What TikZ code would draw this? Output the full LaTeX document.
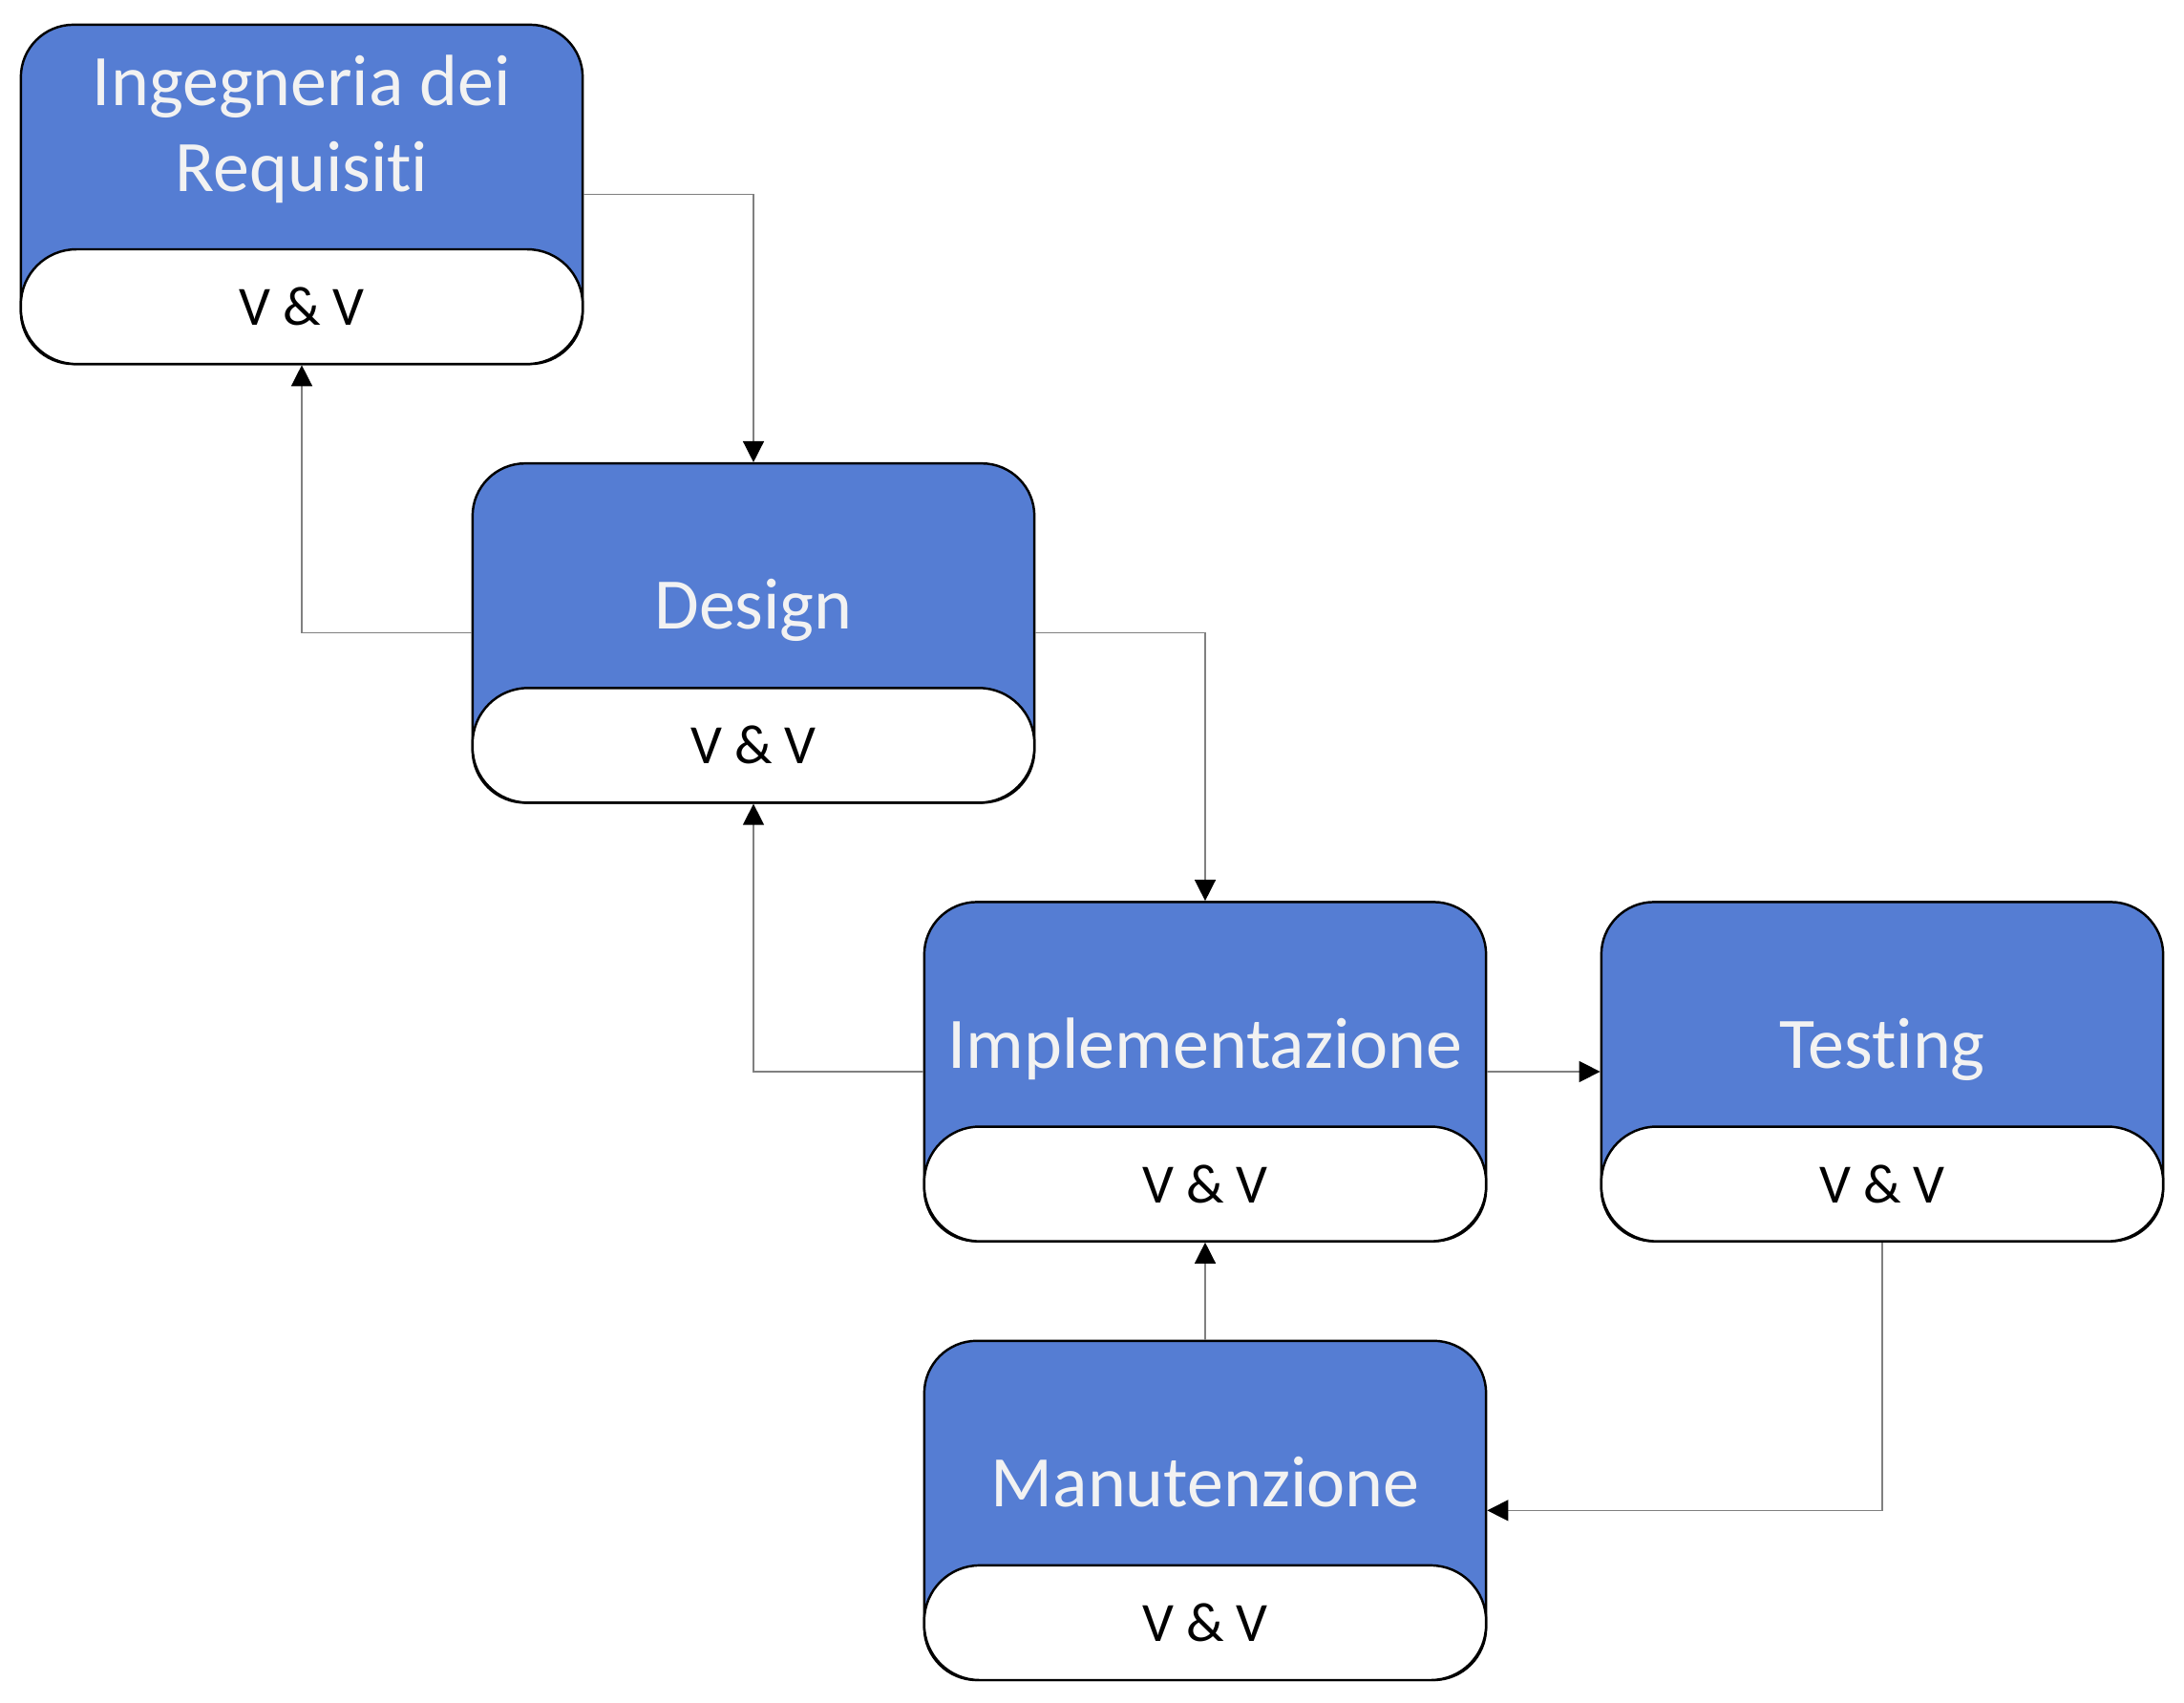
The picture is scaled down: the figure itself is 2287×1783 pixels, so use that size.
\documentclass[tikz,border=0pt]{standalone}
\usepackage{fontspec}
\setmainfont{Carlito}[Ligatures=NoCommon]
\usepackage{tikz}
\usetikzlibrary{positioning, arrows, arrows.meta, calc}

\definecolor{phaseblue}{RGB}{85,125,211}
\definecolor{phasetext}{RGB}{242,242,242}
\definecolor{linkgray}{RGB}{128,128,128}

\begin{document}
\begin{tikzpicture}[x=0.01cm, y=-0.01cm,
  >={Triangle[length=2.2mm,width=2.2mm,color=black]},
  phase/.style={draw=black, line width=0.7pt, fill=phaseblue, rounded corners=0.55cm,
    minimum width=5.88cm, minimum height=3.55cm, inner sep=0pt},
  vvband/.style={draw=black, line width=0.7pt, fill=white, rounded corners=0.58cm,
    minimum width=5.88cm, minimum height=1.2cm, inner sep=0pt, anchor=south,
    font=\fontsize{16.5}{20}\selectfont},
  phasetitle/.style={text=phasetext, font=\fontsize{21.6}{25.5}\selectfont, align=center, anchor=base},
  link/.style={->, draw=linkgray, line width=0.4pt}]

\useasboundingbox (0,0) rectangle (2287,1783);

% Nodes
\node[phase] (req) at (316,203.5) {};
\node[vvband] (reqvv) at (req.south) {V \& V};
\node[phasetitle] (reqtitle) at ($(req.north)+(0,175.7)$) {Ingegneria dei\\Requisiti};

\node[phase] (des) at (789,662.8) {};
\node[vvband] (desvv) at (des.south) {V \& V};
\node[phasetitle] (destitle) at ($(des.north)+(0,175)$) {Design};

\node[phase] (impl) at (1262,1122) {};
\node[vvband] (implvv) at (impl.south) {V \& V};
\node[phasetitle] (impltitle) at ($(impl.north)+(0,175)$) {Implementazione};

\node[phase] (tst) at (1971,1122) {};
\node[vvband] (tstvv) at (tst.south) {V \& V};
\node[phasetitle] (tsttitle) at ($(tst.north)+(0,175)$) {Testing};

\node[phase] (man) at (1262,1581.4) {};
\node[vvband] (manvv) at (man.south) {V \& V};
\node[phasetitle] (mantitle) at ($(man.north)+(0,175)$) {Manutenzione};

% Arrows
\draw[link] (req.east) -| (des.north);
\draw[link] (des.west) -| (req.south);
\draw[link] (des.east) -| (impl.north);
\draw[link] (impl.west) -| (des.south);
\draw[link] (impl.east) -- (tst.west);
\draw[link] (man.north) -- (impl.south);
\draw[link] (tst.south) |- (man.east);

\end{tikzpicture}
\end{document}
